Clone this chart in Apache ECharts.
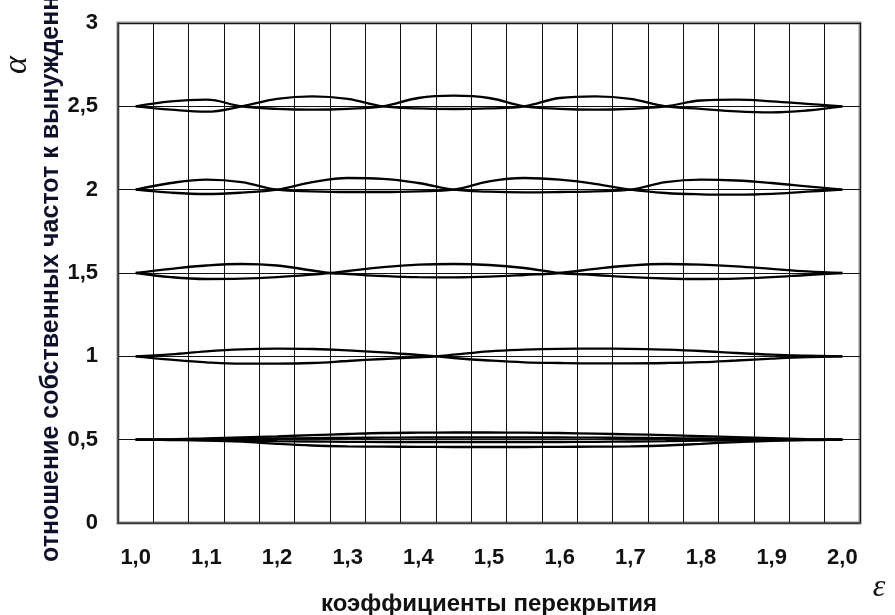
<!DOCTYPE html>
<html>
<head>
<meta charset="utf-8">
<script src="https://cdn.jsdelivr.net/npm/echarts@6/dist/echarts.min.js"></script>
<style>
html,body{margin:0;padding:0;background:#fff;}
#chart{width:895px;height:615px;}
</style>
</head>
<body>
<div id="chart"></div>
<script>
// Categories of the x axis (grid cells), tick labels
const epsCategories = ['1,00','1,05','1,10','1,15','1,20','1,25','1,30','1,35','1,40','1,45','1,50','1,55','1,60','1,65','1,70','1,75','1,80','1,85','1,90','1,95','2,00'];
const xTickLabels = ['1,0','1,1','1,2','1,3','1,4','1,5','1,6','1,7','1,8','1,9','2,0'];
const yTickLabels = ['0','0,5','1','1,5','2','2,5','3'];

// alpha = 2.5 band
const xs25 = [1.00,1.05,1.10,1.15,1.20,1.25,1.30,1.35,1.40,1.45,1.50,1.55,1.60,1.65,1.70,1.75,1.80,1.85,1.90,1.95,2.00];
const a25 = [2.5,2.53,2.54,2.5,2.485,2.48,2.485,2.5,2.55,2.564,2.55,2.5,2.485,2.48,2.485,2.5,2.535,2.54,2.53,2.515,2.5];
const b25 = [2.5,2.48,2.468,2.5,2.545,2.56,2.545,2.5,2.488,2.484,2.488,2.5,2.55,2.56,2.545,2.5,2.485,2.47,2.464,2.475,2.5];

// alpha = 2.0 band
const xs20 = [1.00,1.05,1.10,1.15,1.20,1.25,1.30,1.35,1.40,1.45,1.50,1.55,1.60,1.65,1.70,1.75,1.80,1.85,1.90,1.95,2.00];
const a20 = [2,2.04,2.06,2.045,2,1.99,1.986,1.986,1.99,2,2.05,2.07,2.06,2.035,2,1.98,1.972,1.97,1.975,1.988,2];
const b20 = [2,1.982,1.974,1.982,2,2.045,2.07,2.065,2.04,2,1.988,1.984,1.986,1.99,2,2.045,2.06,2.055,2.04,2.02,2];

// alpha = 1.5 band
const xs15 = [1.00,1.05,1.10,1.15,1.20,1.25,1.275,1.30,1.35,1.40,1.45,1.50,1.55,1.60,1.65,1.70,1.75,1.80,1.85,1.90,1.95,2.00];
const a15 = [1.5,1.525,1.545,1.554,1.545,1.515,1.5,1.494,1.482,1.475,1.474,1.478,1.488,1.5,1.525,1.545,1.554,1.55,1.54,1.525,1.51,1.5];
const b15 = [1.5,1.475,1.464,1.466,1.475,1.49,1.5,1.512,1.535,1.55,1.554,1.548,1.53,1.5,1.488,1.475,1.467,1.464,1.466,1.475,1.488,1.5];

// alpha = 1.0 band
const xs10 = [1.00,1.05,1.10,1.15,1.20,1.25,1.30,1.35,1.40,1.425,1.45,1.50,1.55,1.60,1.65,1.70,1.75,1.80,1.85,1.90,1.95,2.00];
const a10 = [1,1.012,1.03,1.042,1.046,1.044,1.036,1.024,1.008,1,0.99,0.975,0.964,0.96,0.958,0.958,0.96,0.965,0.975,0.986,0.995,1];
const b10 = [1,0.98,0.964,0.956,0.956,0.96,0.972,0.984,0.994,1,1.01,1.03,1.04,1.045,1.046,1.045,1.04,1.032,1.02,1.01,1.004,1];

// alpha = 0.5 band
const xs05 = [1.00,1.05,1.10,1.15,1.20,1.25,1.30,1.35,1.40,1.45,1.50,1.55,1.60,1.65,1.70,1.75,1.80,1.85,1.90,1.95,2.00];
const a05 = [0.5,0.502,0.508,0.514,0.52,0.527,0.534,0.54,0.542,0.543,0.543,0.542,0.54,0.536,0.532,0.527,0.521,0.515,0.509,0.503,0.5];
const b05 = [0.5,0.498,0.495,0.488,0.475,0.465,0.46,0.458,0.457,0.456,0.456,0.456,0.457,0.458,0.46,0.465,0.475,0.485,0.493,0.497,0.5];
const c05 = [0.5,0.501,0.503,0.505,0.507,0.509,0.511,0.512,0.513,0.513,0.513,0.513,0.513,0.512,0.511,0.509,0.507,0.505,0.503,0.501,0.5];
const d05 = [0.5,0.499,0.497,0.494,0.491,0.489,0.487,0.486,0.486,0.486,0.486,0.486,0.486,0.487,0.489,0.491,0.494,0.496,0.498,0.499,0.5];

const curves = [
  [xs25,a25],[xs25,b25],
  [xs20,a20],[xs20,b20],
  [xs15,a15],[xs15,b15],
  [xs10,a10],[xs10,b10],
  [xs05,a05],[xs05,b05],[xs05,c05],[xs05,d05]
];

const FONT = "'Liberation Sans', Arial, sans-serif";

const series = curves.map(function(c){
  return {
    type:'line', xAxisIndex:1, yAxisIndex:0,
    data: c[0].map(function(x,i){ return [x, c[1][i]]; }),
    smooth:0.4, showSymbol:false, silent:true,
    lineStyle:{color:'#000', width:2.3}
  };
});

const chart = echarts.init(document.getElementById('chart'), null, {renderer:'canvas'});
chart.setOption({
  animation:false,
  backgroundColor:'#fff',
  grid:{left:118, top:23, right:35, bottom:92, show:true, borderColor:'#8c8c8c', borderWidth:3, backgroundColor:'transparent'},
  xAxis:[
    {
      type:'category', data:epsCategories, boundaryGap:true,
      axisLine:{show:true, lineStyle:{color:'#444', width:1.5}},
      axisTick:{show:false},
      axisLabel:{interval:1, margin:24, fontSize:22, fontWeight:'bold', color:'#111', fontFamily:FONT,
        formatter:function(v,i){ return xTickLabels[i/2]; }},
      splitLine:{show:true, interval:0, lineStyle:{color:'#111', width:1}}
    },
    {
      type:'value', min:0.975, max:2.025, show:false
    }
  ],
  yAxis:{
    type:'value', min:0, max:3, interval:0.5,
    axisLine:{show:true, lineStyle:{color:'#444', width:1.5}},
    axisTick:{show:false},
    axisLabel:{margin:20, fontSize:22, fontWeight:'bold', color:'#111', fontFamily:FONT,
      formatter:function(v){ return yTickLabels[Math.round(v*2)]; }},
    splitLine:{show:true, lineStyle:{color:'#111', width:1}}
  },
  graphic:[
    {type:'text', x:51, y:562, rotation:Math.PI/2, silent:true,
      style:{text:'отношение собственных частот к вынужденным', font:"bold 25px 'Liberation Sans', Arial, sans-serif",
        fill:'#10102a', align:'left', verticalAlign:'middle'}},
    {type:'text', x:17, y:65, rotation:Math.PI/2, silent:true,
      style:{text:'α', font:"italic 34px 'Liberation Serif', 'DejaVu Serif', serif", fill:'#111', align:'center', verticalAlign:'middle'}},
    {type:'text', x:879, y:588, silent:true,
      style:{text:'ε', font:"italic 32px 'Liberation Serif', 'DejaVu Serif', serif", fill:'#111', align:'center', verticalAlign:'middle'}},
    {type:'text', x:489, y:604, silent:true,
      style:{text:'коэффициенты перекрытия', font:"bold 24px 'Liberation Sans', Arial, sans-serif", fill:'#111', align:'center', verticalAlign:'middle'}}
  ],
  series:series
});
</script>
</body>
</html>
